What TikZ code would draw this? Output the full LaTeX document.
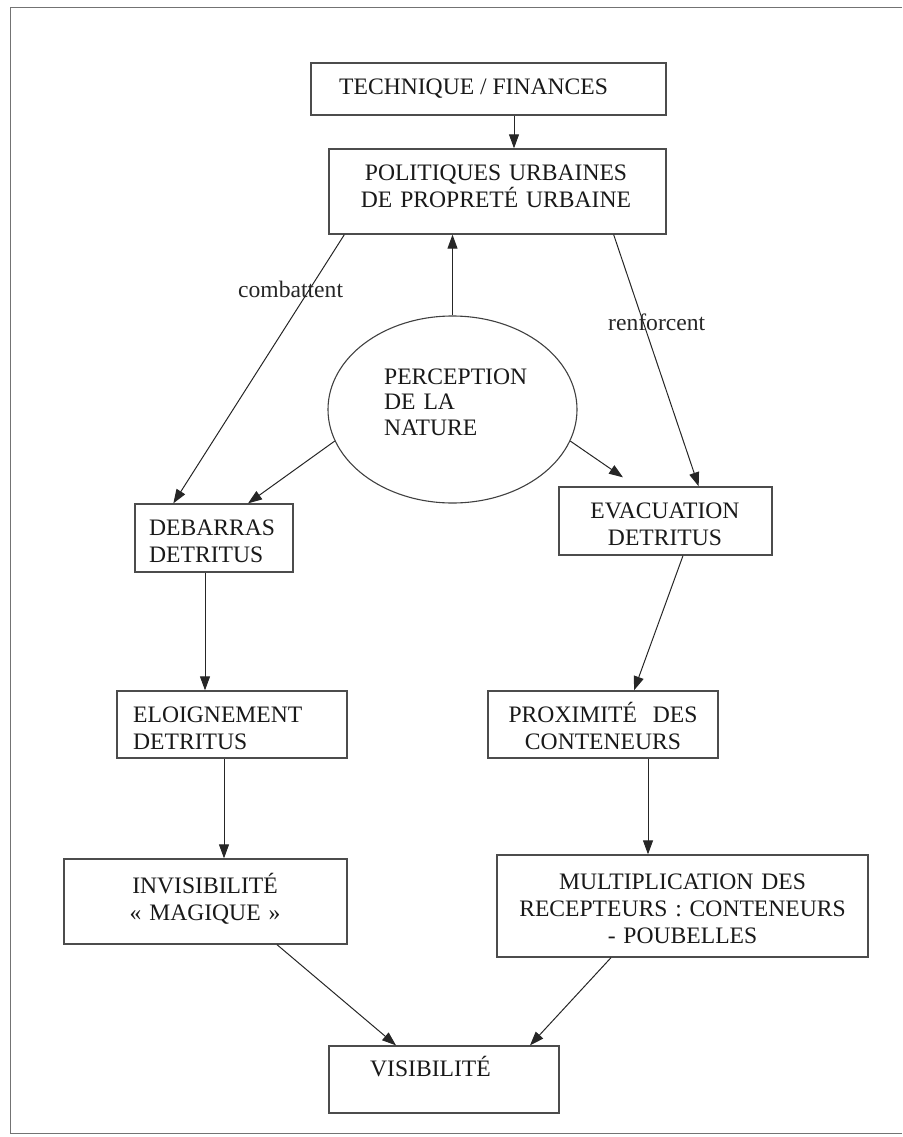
\documentclass[tikz,border=0pt]{standalone}
\usepackage{fontspec}
\setmainfont{Liberation Serif}
\usetikzlibrary{shapes.geometric,arrows.meta}
\tikzset{
  box/.style={draw=black!70, line width=1.3pt, inner sep=0pt, fill=white},
  oval/.style={ellipse, draw=black!75, line width=1.1pt, inner sep=0pt},
  arr/.style={draw=black!85, line width=1pt, -{Triangle[length=14pt,width=10pt]}},
  txt/.style={font=\fontsize{23.6}{27}\selectfont, inner sep=0pt, text=black!90},
  lbl/.style={font=\fontsize{23.6}{27}\selectfont, inner sep=0pt, text=black!85},
  frame/.style={draw=black!55, line width=1pt}
}
\begin{document}
\begin{tikzpicture}[x=1pt,y=-1pt]
\useasboundingbox (0,0) rectangle (902,1137);
% outer frame
\draw[frame] (902,8) -- (10,8) -- (10,1133) -- (902,1133);

% boxes
\node[box, minimum width=355pt, minimum height=52pt] (TECH) at (488.5,89) {};
\node[box, minimum width=337pt, minimum height=85pt] (POL) at (497.5,191.5) {};
\node[oval, minimum width=249pt, minimum height=187pt] (E) at (452.5,409.5) {};
\node[box, minimum width=158pt, minimum height=68pt] (DEB) at (214,538) {};
\node[box, minimum width=213pt, minimum height=68pt] (EVAC) at (665.5,521) {};
\node[box, minimum width=230pt, minimum height=67pt] (ELO) at (232,724.5) {};
\node[box, minimum width=230pt, minimum height=67pt] (PROX) at (603,724.5) {};
\node[box, minimum width=283pt, minimum height=85pt] (INV) at (205.5,901.5) {};
\node[box, minimum width=371pt, minimum height=102pt] (MUL) at (682.5,906) {};
\node[box, minimum width=230pt, minimum height=67pt] (VIS) at (444,1079.5) {};

% texts
\node[txt, anchor=base west] (tTECH) at (339,95) {TECHNIQUE / FINANCES};
\node[txt, anchor=base, text width=330pt, align=center] (tPOL) at (496,180) {POLITIQUES URBAINES\\DE PROPRETÉ URBAINE};
\node[txt, anchor=base west, text width=160pt, align=left, font=\fontsize{23.6}{25.5}\selectfont] (tE) at (384,384) {PERCEPTION\\DE LA\\NATURE};
\node[txt, anchor=base west, text width=140pt, align=left] (tDEB) at (149,535) {DEBARRAS\\DETRITUS};
\node[txt, anchor=base, text width=200pt, align=center] (tEVAC) at (665,518) {EVACUATION\\DETRITUS};
\node[txt, anchor=base west, text width=200pt, align=left] (tELO) at (133,722) {ELOIGNEMENT\\DETRITUS};
\node[txt, anchor=base, text width=220pt, align=center] (tPROX) at (603,722) {PROXIMITÉ~ DES\\CONTENEURS};
\node[txt, anchor=base, text width=270pt, align=center] (tINV) at (205,893) {INVISIBILITÉ\\« MAGIQUE »};
\node[txt, anchor=base, text width=360pt, align=center] (tMUL) at (682.5,889) {MULTIPLICATION DES\\RECEPTEURS : CONTENEURS\\- POUBELLES};
\node[txt, anchor=base west] (tVIS) at (370,1076) {VISIBILITÉ};

% labels
\node[lbl, anchor=base west] (lcomb) at (238,297) {combattent};
\node[lbl, anchor=base west] (lrenf) at (608,330) {renforcent};

% connectors
\draw[arr] ([xshift=25.5pt]TECH.south) -- ([xshift=16.5pt]POL.north);
\draw[arr] (E.north) -- (E.north |- POL.south);
\draw[arr] ([xshift=16pt]POL.south west) -- ([xshift=39pt]DEB.north west);
\draw[arr] ([xshift=-53pt]POL.south east) -- ([xshift=-74pt]EVAC.north east);
\draw[arr] (E.195) -- ([xshift=34pt]DEB.north);
\draw[arr] (E.345) -- ([xshift=-42.5pt,yshift=9pt]EVAC.north);
\draw[arr] ([xshift=-9pt]DEB.south) -- ([xshift=-27pt]ELO.north);
\draw[arr] ([xshift=17.5pt]EVAC.south) -- ([xshift=31pt]PROX.north);
\draw[arr] ([xshift=-8pt]ELO.south) -- ([xshift=18.5pt]INV.north);
\draw[arr] ([xshift=45pt]PROX.south) -- ([xshift=-34.5pt]MUL.north);
\draw[arr] ([xshift=71.5pt]INV.south) -- ([xshift=-48pt]VIS.north);
\draw[arr] ([xshift=-71.5pt]MUL.south) -- ([xshift=86pt]VIS.north);
\end{tikzpicture}
\end{document}
